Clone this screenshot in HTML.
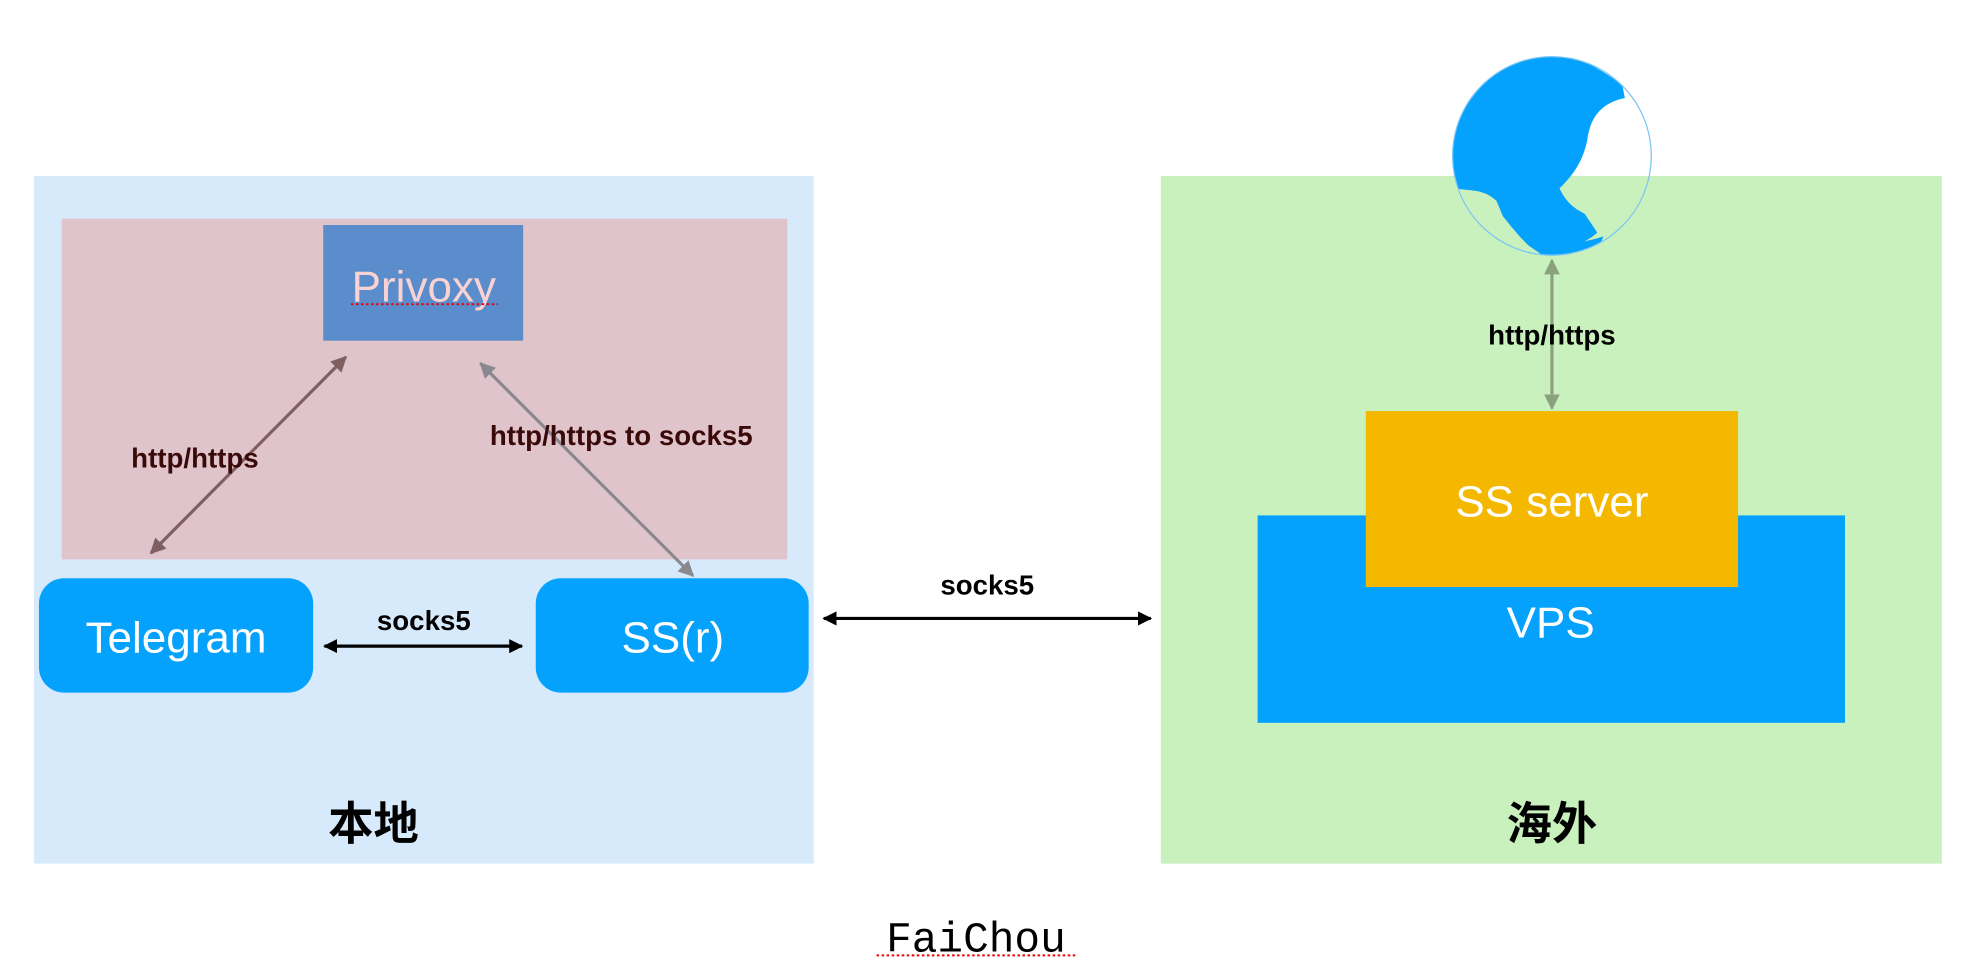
<!DOCTYPE html>
<html><head><meta charset="utf-8"><style>
html,body{margin:0;padding:0;background:#fff;}
svg{display:block;}
.s{font-family:"Liberation Sans","Noto Sans CJK SC",sans-serif;}
.m{font-family:"Liberation Mono","DejaVu Sans Mono",monospace;}
</style></head><body>
<svg width="1972" height="978" viewBox="0 0 1568 778" preserveAspectRatio="none" xmlns="http://www.w3.org/2000/svg">
<defs>
<marker id="mb" viewBox="0 0 10 10" refX="9" refY="5" markerWidth="4.5" markerHeight="4.5" orient="auto-start-reverse"><path d="M0,0L10,5L0,10z" fill="#000"/></marker>
<marker id="m1" viewBox="0 0 10 10" refX="9" refY="5" markerWidth="5" markerHeight="5" orient="auto-start-reverse"><path d="M0,0L10,5L0,10z" fill="#7f5f62"/></marker>
<marker id="m2" viewBox="0 0 10 10" refX="9" refY="5" markerWidth="5" markerHeight="5" orient="auto-start-reverse"><path d="M0,0L10,5L0,10z" fill="#8c8890"/></marker>
<marker id="m3" viewBox="0 0 10 10" refX="9" refY="5" markerWidth="5" markerHeight="5" orient="auto-start-reverse"><path d="M0,0L10,5L0,10z" fill="#8aa07f"/></marker>
<clipPath id="gc"><circle cx="1234" cy="124" r="79"/></clipPath>
</defs>
<g class="s">
<rect x="27" y="140" width="620" height="547" fill="#d6eafc"/>
<rect x="49" y="174" width="577" height="271" fill="#dfc4cc"/>
<rect x="257" y="179" width="159" height="92" fill="#5b8ccb"/>
<text x="337" y="240" font-size="35" fill="#f9d3d3" text-anchor="middle">Privoxy</text>
<line x1="279" y1="242" x2="396" y2="242" stroke="#e00" stroke-width="1.5" stroke-dasharray="2,2"/>
<line x1="120" y1="440" x2="275" y2="284" stroke="#7f5f62" stroke-width="2.5" marker-start="url(#m1)" marker-end="url(#m1)"/>
<line x1="382" y1="289" x2="551" y2="458" stroke="#8c8890" stroke-width="2.5" marker-start="url(#m2)" marker-end="url(#m2)"/>
<text x="155" y="372" font-size="22" font-weight="bold" fill="#3a0a0a" text-anchor="middle">http/https</text>
<text x="494" y="354" font-size="22" font-weight="bold" fill="#3a0a0a" text-anchor="middle">http/https to socks5</text>
<rect x="31" y="460" width="218" height="91" rx="20" fill="#04a2fd"/>
<text x="140" y="519" font-size="35" fill="#fff" text-anchor="middle">Telegram</text>
<rect x="426" y="460" width="217" height="91" rx="20" fill="#04a2fd"/>
<text x="535" y="519" font-size="35" fill="#fff" text-anchor="middle">SS(r)</text>
<line x1="258" y1="514" x2="415" y2="514" stroke="#000" stroke-width="2.5" marker-start="url(#mb)" marker-end="url(#mb)"/>
<text x="337" y="501" font-size="22" font-weight="bold" fill="#000" text-anchor="middle">socks5</text>
<text x="297" y="668" font-size="36" font-weight="bold" fill="#000" text-anchor="middle">本地</text>
<line x1="655" y1="492" x2="915" y2="492" stroke="#000" stroke-width="2.5" marker-start="url(#mb)" marker-end="url(#mb)"/>
<text x="785" y="473" font-size="22" font-weight="bold" fill="#000" text-anchor="middle">socks5</text>
<rect x="923" y="140" width="621" height="547" fill="#c9f1bd"/>
<rect x="1000" y="410" width="467" height="165" fill="#04a2fd"/>
<text x="1233" y="507" font-size="35" fill="#fff" text-anchor="middle">VPS</text>
<rect x="1086" y="327" width="296" height="140" fill="#f5b800"/>
<text x="1234" y="411" font-size="35" fill="#fff" text-anchor="middle">SS server</text>
<g clip-path="url(#gc)">
<path d="M1150,150 L1150,60 L1200,44 L1245,44 C1260,48 1275,56 1290,68 L1292,78 C1272,82 1264,95 1262,112 C1258,130 1250,140 1240,150 C1245,160 1250,165 1260,170 L1270,185 C1260,195 1240,200 1225,202 L1215,195 C1205,185 1200,178 1195,172 L1190,160 C1180,150 1168,152 1158,150 Z" fill="#04a2fd"/>
<path d="M1218,205 C1235,196 1260,193 1275,188 L1270,200 C1255,205 1240,207 1225,206 Z" fill="#04a2fd"/>
</g>
<circle cx="1234" cy="124" r="79" fill="none" stroke="#7cc5f5" stroke-width="1"/>
<line x1="1234" y1="207" x2="1234" y2="325" stroke="#8aa07f" stroke-width="2.5" marker-start="url(#m3)" marker-end="url(#m3)"/>
<text x="1234" y="274" font-size="22" font-weight="bold" fill="#000" text-anchor="middle">http/https</text>
<text x="1234" y="668" font-size="36" font-weight="bold" fill="#000" text-anchor="middle">海外</text>
</g>
<text class="m" x="776" y="757" font-size="34" fill="#000" text-anchor="middle">FaiChou</text>
<line x1="697" y1="760" x2="855" y2="760" stroke="#e00" stroke-width="1.5" stroke-dasharray="2,2"/>
</svg>
</body></html>
